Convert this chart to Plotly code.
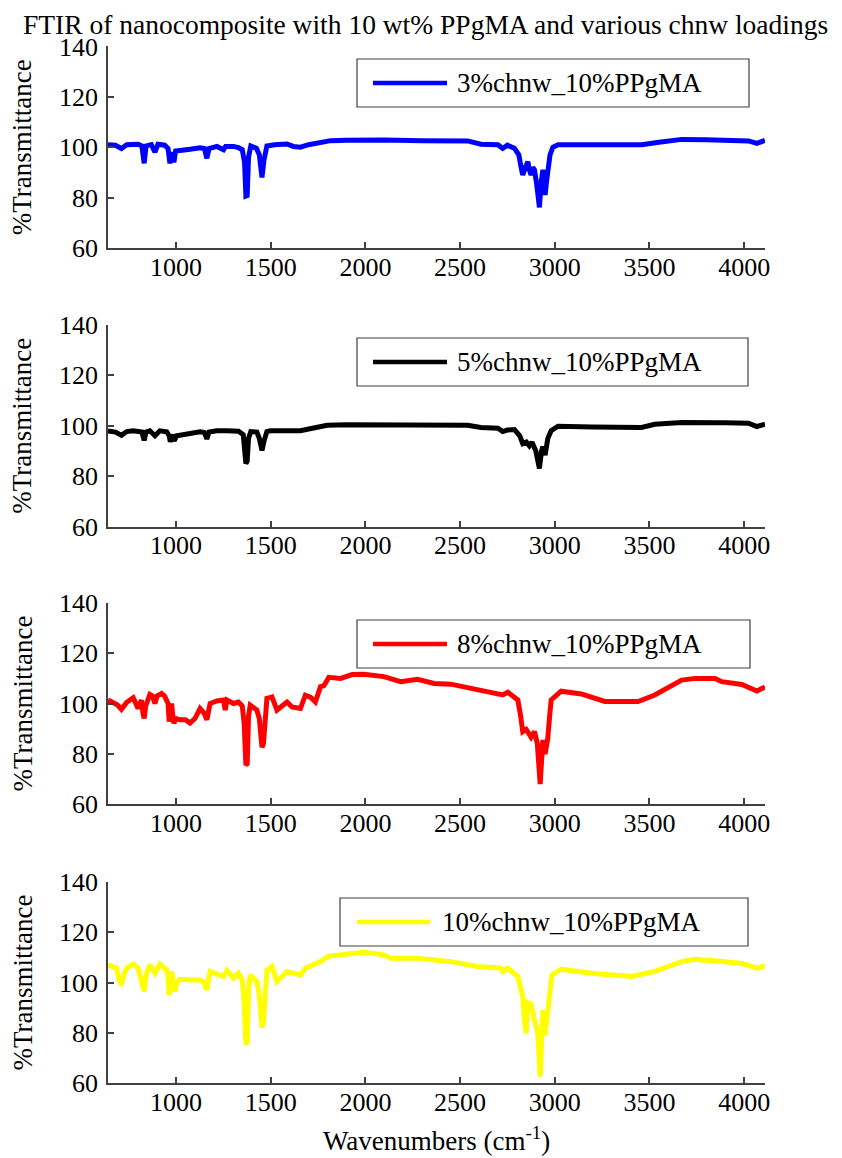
import plotly.graph_objects as go

# ---------------- data ----------------
wn_3 = [641, 680, 712, 740, 800, 820, 832, 842, 870, 889, 905, 940, 958, 968, 977, 989, 998, 1020,
        1074, 1127, 1150, 1163, 1175, 1216, 1251, 1262, 1304, 1330, 1350, 1362, 1369, 1376, 1383,
        1395, 1425, 1440, 1454, 1465, 1480, 1520, 1586, 1620, 1657, 1700, 1760, 1816, 1900, 2000,
        2100, 2300, 2540, 2610, 2700, 2725, 2750, 2787, 2810, 2825, 2831, 2845, 2858, 2866, 2875,
        2884, 2893, 2905, 2919, 2928, 2937, 2944, 2949, 2956, 2963, 2975, 2990, 3017, 3200, 3458,
        3550, 3670, 3800, 4000, 4023, 4067, 4090, 4110]
t_3 = [101, 100.8, 99.5, 101, 101.2, 100.5, 93.6, 100.5, 101, 98, 101.2, 100.8, 99.5, 93.6, 98, 94,
       98.5, 98.6, 99.2, 99.8, 99.5, 95.6, 99.5, 100.3, 99, 100.3, 100.3, 99.8, 99, 94, 80.6, 80.8,
       96, 100.5, 99.5, 97, 88, 95, 100.5, 101, 101.3, 100.3, 100, 101, 101.8, 102.6, 102.8, 103,
       102.9, 102.6, 102.5, 101.2, 101, 99.5, 100.8, 99.6, 97, 91, 89, 92, 94.2, 91, 89, 92, 91,
       85, 76.1, 86, 91, 86, 81, 86, 91, 97, 100, 101, 101, 101, 102, 103.1, 103, 102.7, 102.5,
       101.5, 102.3, 102.7]

wn_5 = [641, 680, 712, 740, 774, 800, 820, 832, 842, 862, 889, 915, 951, 964, 970, 980, 990, 1004,
        1074, 1127, 1150, 1163, 1175, 1216, 1269, 1330, 1355, 1362, 1369, 1376, 1383, 1395, 1427,
        1440, 1454, 1465, 1480, 1498, 1600, 1657, 1720, 1798, 1900, 2100, 2400, 2540, 2610, 2700,
        2725, 2750, 2787, 2815, 2831, 2850, 2866, 2880, 2900, 2919, 2930, 2937, 2949, 2963, 2981,
        3017, 3200, 3458, 3528, 3670, 3900, 4023, 4067, 4110]
t_5 = [97.9, 97.5, 96.2, 97.7, 98, 97.5, 97.5, 94.2, 97.5, 98, 96, 98, 97.6, 96, 93.6, 96.5, 94, 96,
       96.8, 97.6, 97.3, 94.8, 97.5, 98, 98, 97.8, 96.5, 92, 85, 86, 95, 97.7, 97.5, 95, 90.2, 94,
       97.7, 98, 98.3, 98, 99, 100.2, 100.4, 100.4, 100.2, 100.2, 99.3, 99, 97.7, 98.3, 98.5, 96,
       92.9, 93.5, 92, 93.5, 90, 83, 90, 91.7, 88.3, 94.9, 98, 99.8, 99.5, 99.3, 100.6, 101.3,
       101.2, 101, 99.7, 100.6]

wn_8 = [641, 690, 712, 740, 774, 800, 809, 818, 826, 832, 840, 862, 875, 889, 900, 924, 940, 951,
        958, 964, 970, 977, 983, 989, 1000, 1021, 1050, 1074, 1100, 1127, 1150, 1163, 1180, 1216,
        1251, 1260, 1269, 1304, 1330, 1350, 1360, 1369, 1376, 1383, 1392, 1427, 1440, 1454, 1462,
        1470, 1480, 1507, 1533, 1586, 1613, 1657, 1683, 1710, 1736, 1763, 1780, 1807, 1869, 1930,
        1992, 2098, 2187, 2275, 2363, 2451, 2610, 2700, 2725, 2752, 2790, 2805, 2820, 2831, 2849,
        2866, 2875, 2893, 2908, 2923, 2930, 2937, 2949, 2963, 2973, 2981, 3034, 3140, 3264, 3440,
        3528, 3670, 3740, 3846, 3882, 3988, 4067, 4090, 4110]
t_8 = [101.4, 99.5, 97.7, 100.5, 102.3, 98, 100, 101.3, 96, 94.1, 99, 103.6, 103, 100, 103, 104,
       103, 101.4, 100, 92.8, 98, 100, 95, 92.1, 94, 93.5, 93.5, 92.2, 94, 98, 96, 93.5, 100, 101,
       101.4, 97.4, 101.4, 100, 100.6, 99, 92, 75.5, 76, 95, 99.3, 97.4, 94, 82.6, 84, 95, 102,
       102.6, 97.4, 100.6, 98.6, 98, 103.3, 102.5, 100.6, 106.7, 107, 110.4, 110, 111.5, 111.6,
       110.7, 108.7, 109.6, 108, 107.7, 105.4, 104, 103.4, 104.5, 102, 101.4, 95, 88.8, 89.7, 87,
       86.6, 88.8, 84, 67.9, 80, 85.5, 79.9, 86.1, 95, 101.4, 104.9, 103.8, 100.8, 100.8, 103.4,
       109.3, 110, 110, 108.7, 107.6, 105, 106, 106.6]

wn_10 = [641, 686, 700, 712, 725, 739, 774, 800, 809, 826, 832, 842, 862, 889, 915, 951, 958, 964,
         970, 977, 989, 995, 1004, 1021, 1074, 1127, 1150, 1163, 1180, 1251, 1269, 1304, 1330, 1350,
         1360, 1369, 1376, 1383, 1392, 1427, 1440, 1454, 1462, 1470, 1480, 1507, 1533, 1586, 1657,
         1683, 1763, 1807, 1869, 1992, 2098, 2134, 2275, 2451, 2593, 2716, 2725, 2752, 2805, 2820,
         2831, 2840, 2849, 2858, 2875, 2893, 2910, 2923, 2930, 2937, 2949, 2963, 2975, 2985, 3034,
         3193, 3405, 3528, 3670, 3740, 3846, 3988, 4067, 4110]
t_10 = [107, 105.7, 101, 99, 103, 105.7, 107.3, 105.7, 103, 99, 96.4, 103, 107, 103.7, 107.3, 105,
        102, 95.1, 101, 104.4, 99, 96.4, 100, 101.3, 101, 101, 100, 97, 104.4, 102.4, 104.8, 101.7,
        103.7, 101, 92, 75.5, 76, 97, 103, 100.4, 95, 82.1, 84, 96, 105, 106.4, 100.4, 104.4, 103,
        105.7, 108.3, 110.5, 111, 112, 111, 109.7, 109.7, 108.3, 106.4, 105.7, 104.4, 105.7, 102.4,
        98, 94.4, 85, 79.8, 91.9, 91.3, 85, 80, 62.5, 80, 89, 79, 89.6, 98, 103, 105.3, 103.7,
        102.4, 104.4, 108.3, 109.2, 108.7, 107.6, 105.7, 106.6]

series_names = ["3%chnw_10%PPgMA", "5%chnw_10%PPgMA", "8%chnw_10%PPgMA", "10%chnw_10%PPgMA"]
series_wn = [wn_3, wn_5, wn_8, wn_10]
series_t = [t_3, t_5, t_8, t_10]
series_colors = ["#0000FF", "#000000", "#FF0000", "#FFFF00"]

x_ticks = [1000, 1500, 2000, 2500, 3000, 3500, 4000]
y_ticks = [60, 80, 100, 120, 140]
x_range = [641, 4110]
y_range = [60, 140]

title_text = "FTIR of nanocomposite with 10 wt% PPgMA and various chnw loadings"
x_title = "Wavenumbers (cm<sup>-1</sup>)"
y_title = "%Transmittance"

# ---------------- layout (page pixels; the page body has an 8px margin) ----------------
PAGE_W, PAGE_H = 842, 1158
OFF = 8
W, H = PAGE_W - OFF, PAGE_H - OFF
PL, PR = 108, 765
panels = [(46.4, 248), (325, 526.5), (603, 804), (882, 1083)]
legend_boxes = [  # box x0, y0, x1, y1, line x0, x1, text x
    (357, 59, 749, 107, 373, 447, 455),
    (357, 338, 748, 386, 373, 447, 455),
    (357, 620, 750, 668, 373, 447, 455),
    (340, 898, 748, 946, 357, 430, 440),
]
FONT = "Liberation Serif"
AX = "#404040"


def fx(px):
    return (px - OFF) / W


def fy(py):
    return 1 - (py - OFF) / H


fig = go.Figure()
layout = dict(
    width=W, height=H, margin=dict(l=0, r=0, t=0, b=0),
    paper_bgcolor="white", plot_bgcolor="white", showlegend=False,
    font=dict(family=FONT, size=26, color="black"),
    shapes=[], annotations=[],
)

for i in range(4):
    n = "" if i == 0 else str(i + 1)
    fig.add_trace(go.Scatter(
        x=series_wn[i], y=series_t[i], mode="lines", name=series_names[i],
        line=dict(color=series_colors[i], width=5),
        xaxis="x" + n, yaxis="y" + n,
    ))
    top, bot = panels[i]
    layout["xaxis" + n] = dict(
        domain=[fx(PL), fx(PR)], anchor="y" + n, range=x_range,
        tickvals=x_ticks, ticks="inside", ticklen=6, tickcolor=AX, tickwidth=1.5,
        showline=True, linecolor=AX, linewidth=1.5, showgrid=False, zeroline=False,
        tickfont=dict(family=FONT, size=26, color="black"), automargin=False,
        ticklabelstandoff=-5,
    )
    layout["yaxis" + n] = dict(
        domain=[fy(bot), fy(top)], anchor="x" + n, range=y_range,
        tickvals=y_ticks, ticks="inside", ticklen=6, tickcolor=AX, tickwidth=1.5,
        showline=True, linecolor=AX, linewidth=1.5, showgrid=False, zeroline=False,
        tickfont=dict(family=FONT, size=26, color="black"), automargin=False,
        ticklabelstandoff=3,
    )
    # y-axis title
    layout["annotations"].append(dict(
        text=y_title, xref="paper", yref="paper", x=fx(22), y=fy((top + bot) / 2),
        textangle=-90, showarrow=False, xanchor="center", yanchor="middle",
        font=dict(family=FONT, size=27, color="black"),
    ))
    # legend box
    bx0, by0, bx1, by1, lx0, lx1, tx = legend_boxes[i]
    cy = (by0 + by1) / 2
    layout["shapes"].append(dict(
        type="rect", xref="paper", yref="paper", x0=fx(bx0), x1=fx(bx1), y0=fy(by1), y1=fy(by0),
        line=dict(color=AX, width=1.2), fillcolor="white", layer="above",
    ))
    layout["shapes"].append(dict(
        type="line", xref="paper", yref="paper", x0=fx(lx0), x1=fx(lx1), y0=fy(cy), y1=fy(cy),
        line=dict(color=series_colors[i], width=4.5), layer="above",
    ))
    layout["annotations"].append(dict(
        text=series_names[i], xref="paper", yref="paper", x=fx(tx), y=fy(cy),
        showarrow=False, xanchor="left", yanchor="middle",
        font=dict(family=FONT, size=27, color="black"),
    ))

layout["annotations"].append(dict(
    text=title_text, xref="paper", yref="paper", x=fx(425), y=1.0,
    showarrow=False, xanchor="center", yanchor="top", borderpad=0,
    font=dict(family=FONT, size=27.5, color="black"),
))
layout["annotations"].append(dict(
    text=x_title, xref="paper", yref="paper", x=fx(436), y=fy(1139),
    showarrow=False, xanchor="center", yanchor="middle",
    font=dict(family=FONT, size=27, color="black"),
))

fig.update_layout(**layout)
fig.write_html("out.html")
